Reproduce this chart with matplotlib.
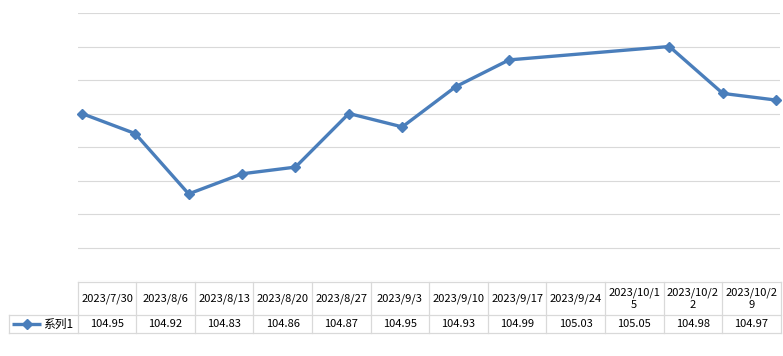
import datetime as dt
import matplotlib
matplotlib.use("Agg")
import matplotlib.pyplot as plt
import matplotlib.dates as mdates

plt.rcParams['font.family'] = ['Noto Sans CJK SC', 'DejaVu Sans']

# data
dates = [dt.date(2023, 7, 30), dt.date(2023, 8, 6), dt.date(2023, 8, 13),
         dt.date(2023, 8, 20), dt.date(2023, 8, 27), dt.date(2023, 9, 3),
         dt.date(2023, 9, 10), dt.date(2023, 9, 17), dt.date(2023, 9, 24),
         dt.date(2023, 10, 15), dt.date(2023, 10, 22), dt.date(2023, 10, 29)]
values = [104.95, 104.92, 104.83, 104.86, 104.87, 104.95,
          104.93, 104.99, 105.03, 105.05, 104.98, 104.97]
series_name = "系列1"

W, H = 783, 356
blue = "#4A7EBB"
grid_c = "#D9D9D9"

fig = plt.figure(figsize=(W / 100, H / 100), dpi=100)

# plot area in pixels
px_l, px_r, px_t, px_b = 78, 780, 13, 281
ax = fig.add_axes([px_l / W, (H - px_b) / H, (px_r - px_l) / W, (px_b - px_t) / H])
ax.plot(dates, values, color=blue, lw=2.4, marker="D", ms=5.5,
        mfc=blue, mec=blue, zorder=3, clip_on=False)
ax.set_xlim(mdates.date2num(dates[0]) - 0.5, mdates.date2num(dates[-1]) + 0.5)
ax.set_ylim(104.70, 105.10)
ax.set_yticks([104.70 + 0.05 * i for i in range(9)])
ax.yaxis.grid(True, color=grid_c, lw=0.8)
ax.set_xticks([])
ax.tick_params(left=False, labelleft=False)
for s in ax.spines.values():
    s.set_visible(False)

# data table underneath, drawn in pixel coords
tb = fig.add_axes([0, 0, 1, 1], facecolor="none")
tb.set_xlim(0, W)
tb.set_ylim(H, 0)
tb.axis("off")

n = len(values)
t_left, t_right = 77.7, 780.7
col_w = (t_right - t_left) / n
row0, row1, row2 = 282, 315, 333
leg_left = 9
lc = dict(color=grid_c, lw=0.9)

tb.plot([t_left, t_right], [row0, row0], **lc)
tb.plot([leg_left, t_right], [row1, row1], **lc)
tb.plot([leg_left, t_right], [row2, row2], **lc)
tb.plot([leg_left, leg_left], [row1, row2], **lc)
for i in range(n + 1):
    x = t_left + i * col_w
    tb.plot([x, x], [row0, row2], **lc)

for i, (d, v) in enumerate(zip(dates, values)):
    cx = t_left + (i + 0.5) * col_w
    lab = f"{d.year}/{d.month}/{d.day}"
    if len(lab) > 9:
        lab = lab[:9] + "\n" + lab[9:]
    tb.text(cx, (row0 + row1) / 2 + 0.5, lab, ha="center", va="center",
            fontsize=8, linespacing=1.25, color="#000000")
    tb.text(cx, (row1 + row2) / 2, f"{v:.2f}", ha="center", va="center",
            fontsize=8, color="#000000")

# legend key in the table
ly = (row1 + row2) / 2
tb.plot([12, 41], [ly, ly], color=blue, lw=2.4, solid_capstyle="butt")
tb.plot([27], [ly], marker="D", ms=5, color=blue)
tb.text(43, ly, series_name, ha="left", va="center", fontsize=8.5, color="#000000")

fig.savefig("out.png", dpi=100)
